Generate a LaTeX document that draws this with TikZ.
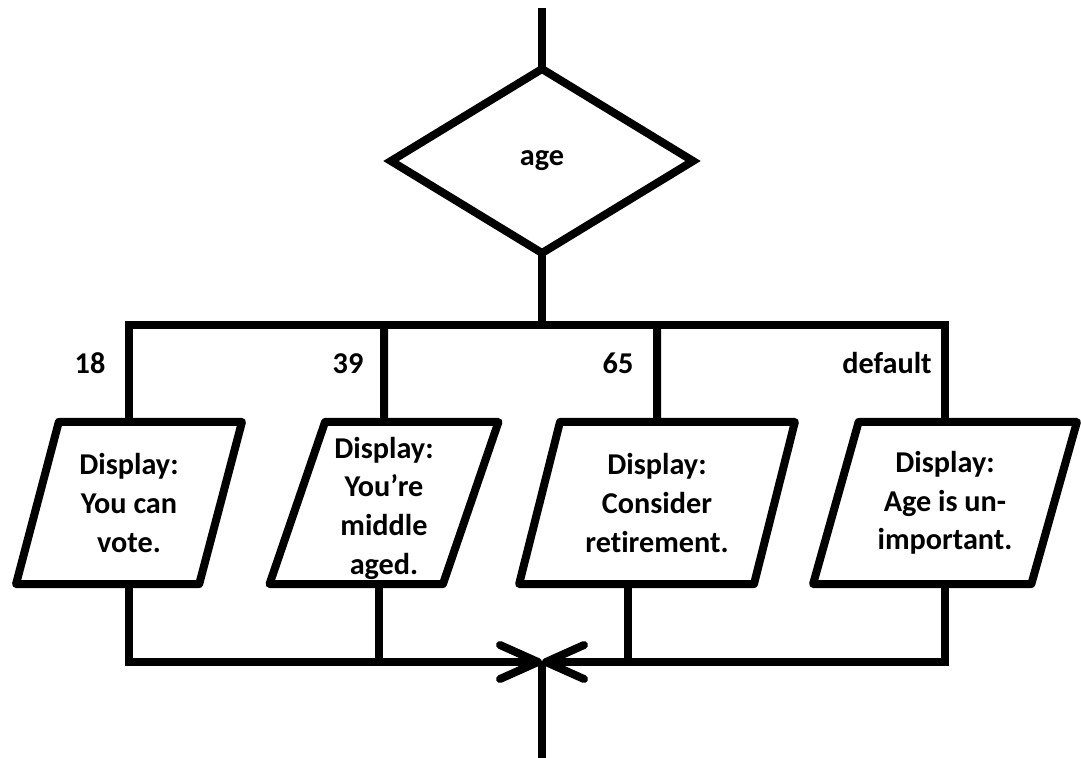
\documentclass[tikz,border=0pt]{standalone}
\usepackage{fontspec}
\setmainfont{Carlito}[Ligatures=NoCommon,Contextuals=NoAlternate]
\usetikzlibrary{shapes.geometric,arrows.meta}

\begin{document}
\begin{tikzpicture}[x=0.025cm,y=-0.025cm,
    flow/.style={line width=0.2cm},
    lbl/.style={font=\fontsize{21.5}{27.5}\selectfont\bfseries},
    decision/.style={draw,line width=0.2cm,shape=diamond,inner sep=0pt,outer sep=0pt,
      minimum width=7.55cm,minimum height=4.6cm,lbl},
    display/.style={draw,line width=0.2cm,line join=round,shape=trapezium,
      trapezium left angle=73,trapezium right angle=107,trapezium stretches=true,
      minimum height=4.05cm,inner sep=0pt,outer sep=0pt,align=center,lbl},
    merge/.style={-{Straight Barb[length=0.95cm,width=0.85cm,round]}}]

    % Tunables (px of the 1081x758 frame, 1px = 0.025cm):
    %   upper bus at y = 325, lower bus at y = 662
    \useasboundingbox (0,0) rectangle (1081,758);

    %==========================
    % Decision
    %==========================
    \coordinate (in) at (542,8);
    \node[decision] (dec) at (542,161) {age};
    \coordinate (split) at (542,325);

    \draw[flow] (in) -- (dec);
    \draw[flow] (dec) -- (split);

    %==========================
    % Case outputs
    %==========================
    \node[display,minimum width=5.65cm]  (b1) at (129,503) {Display:\\You can\\vote.};
    \node[display,minimum width=5.725cm] (b2) at (384,503) {\rule{0pt}{1.05em}Display:\\You’re\\middle\\aged.};
    \node[display,minimum width=6.9cm]   (b3) at (657,503) {Display:\\Consider\\retirement.};
    \node[display,minimum width=6.6cm,trapezium left angle=71,trapezium right angle=109]
      (b4) at (945,503) {Display:\\Age is un-\\important.};

    % case values
    \node[lbl,anchor=base] (c1) at (90,373) {18};
    \node[lbl,anchor=base] (c2) at (348,373) {39};
    \node[lbl,anchor=base] (c3) at (618,373) {65};
    \node[lbl,anchor=base] (c4) at (887,373) {default};

    % upper bus
    \draw[flow] (b1) |- (split) -| (b4);
    \draw[flow] (split -| b2) -- (b2);
    \draw[flow] (split -| b3) -- (b3);

    %==========================
    % Merge
    %==========================
    \coordinate (join) at (542,662);
    \coordinate (out) at (542,758);
    \coordinate (b2out) at ([xshift=-0.125cm]b2.south);
    \coordinate (b3out) at ([xshift=-0.725cm]b3.south);

    \draw[flow,merge] (b1) |- (join);
    \draw[flow,merge] (b4) |- (join);
    \draw[flow] (b2out) -- (b2out |- join);
    \draw[flow] (b3out) -- (b3out |- join);
    \draw[flow] (join) -- (out);

  \end{tikzpicture}
\end{document}
